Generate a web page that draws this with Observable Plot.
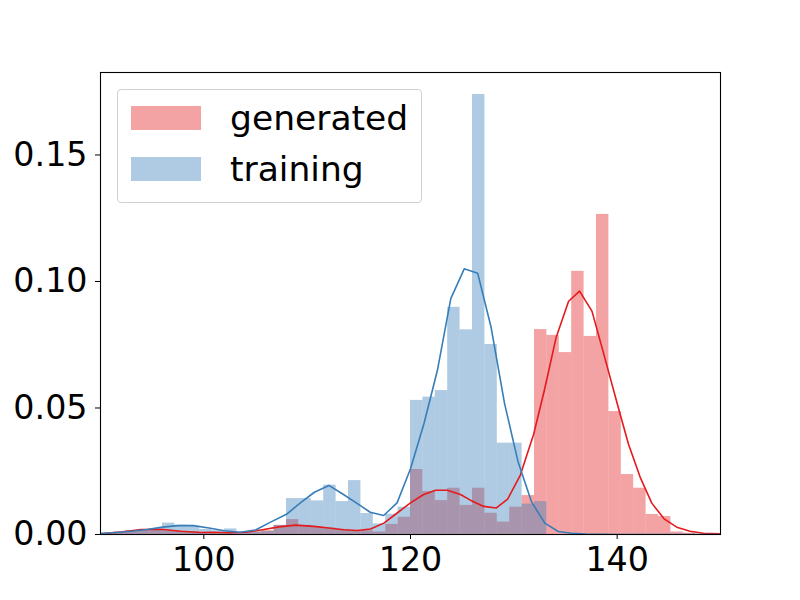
<!DOCTYPE html>
<html>
<head>
<meta charset="utf-8">
<script src="https://cdn.jsdelivr.net/npm/d3@7"></script>
<script src="https://cdn.jsdelivr.net/npm/@observablehq/plot@0.6"></script>
<style>
  body { margin: 0; background: #fff; }
  #wrap { position: relative; width: 800px; height: 600px; font-family: "DejaVu Sans", sans-serif; }
  #legend { position: absolute; left: 117px; top: 89px; width: 305px; height: 114px;
    border: 1px solid #d0d0d0; border-radius: 4px; background: rgba(255,255,255,0.8); box-sizing: border-box; }
  .sw { width: 70px; height: 24px; }
  .lab { position: absolute; left: 112px; font-size: 34.5px; line-height: 1; white-space: nowrap; color: #000; }
</style>
</head>
<body>
<div id="wrap"></div>
<script>
// Histogram bin edges (bin starts; width 1.2)
const binStarts = [90,91.2,92.4,93.6,94.8,96,97.2,98.4,99.6,100.8,102,103.2,104.4,105.6,106.8,108,109.2,110.4,111.6,112.8,114,115.2,116.4,117.6,118.8,120,121.2,122.4,123.6,124.8,126,127.2,128.4,129.6,130.8,132,133.2,134.4,135.6,136.8,138,139.2,140.4,141.6,142.8,144,145.2,146.4,147.6,148.8];
const binWidth = 1.2;

// Histogram densities
const generatedHist = [0.0005,0.001,0.0015,0.0018,0.0018,0.0015,0.0012,0.001,0.0008,0.0008,0.0008,0.0008,0.001,0.0015,0.0036,0.0059,0.0036,0.0028,0.0025,0.002,0.0015,0.0015,0.001,0.004,0.0068,0.0257,0.017,0.0134,0.0183,0.0115,0.0183,0.0084,0.0049,0.0108,0.0154,0.081,0.0787,0.0719,0.104,0.0783,0.1265,0.0486,0.0237,0.0183,0.0079,0.0071,0.001,0.0005,0,0];
const trainingHist = [0,0.0005,0.001,0.0015,0.0022,0.0045,0.0037,0.0032,0.002,0.0015,0.0022,0.0008,0.001,0.0012,0.0036,0.0142,0.0142,0.0133,0.0195,0.013,0.0213,0.0083,0.0042,0.008,0.0108,0.053,0.0543,0.0569,0.0898,0.0809,0.1739,0.0751,0.0361,0.0361,0.012,0.013,0,0,0,0,0,0,0,0,0,0,0,0,0,0];

// KDE curves
const generatedKdeX = [90.05,91.98,93.91,95.85,97.78,99.71,100.84,102.44,104.06,105.67,107.28,108.89,110.66,112.1,113.55,114.85,116.14,117.42,118.71,120.0,121.23,122.42,123.55,124.84,125.96,127.08,128.31,129.4,130.63,131.91,132.95,134.1,135.3,136.36,137.56,138.74,139.97,141.09,142.22,143.35,144.54,145.77,147.05,148.34,150];
const generatedKdeY = [0.0003,0.001,0.002,0.0021,0.0013,0.0008,0.0009,0.0007,0.0009,0.0019,0.003,0.0037,0.0032,0.0026,0.0019,0.0016,0.0022,0.0045,0.0085,0.0125,0.0157,0.0175,0.0175,0.0158,0.0132,0.0111,0.0105,0.014,0.0235,0.0395,0.0569,0.078,0.0922,0.0962,0.0883,0.0708,0.0523,0.0358,0.0227,0.0124,0.0062,0.0029,0.0013,0.0005,0.0003];
const trainingKdeX = [90,91.5,93,94.5,96,97.5,99,100.5,102,103.5,105,106.5,108,109.4,110.7,112.1,113.4,114.9,116.1,117.4,118.7,120.0,121.3,122.6,123.9,125.2,126.5,127.8,129.1,130.4,131.7,133.0,134.3,135.6,137,140,145,150];
const trainingKdeY = [0.0004,0.0008,0.0013,0.002,0.0029,0.0035,0.0035,0.0026,0.0015,0.0009,0.0018,0.005,0.008,0.0127,0.0167,0.0194,0.0161,0.0121,0.0088,0.0075,0.0125,0.026,0.0438,0.0648,0.0932,0.105,0.1033,0.0819,0.0518,0.0289,0.013,0.0045,0.0012,0.0005,0.0002,0,0,0];

const yTicks = [0, 0.05, 0.10, 0.15];
const xTicks = [100, 120, 140];
const seriesNames = ["generated", "training"];
const seriesColors = ["#e41a1c", "#377eb8"];

const genBars = binStarts.map((s, i) => ({x1: s, x2: s + binWidth, y: generatedHist[i]}));
const trBars = binStarts.map((s, i) => ({x1: s, x2: s + binWidth, y: trainingHist[i]}));
const genKde = generatedKdeX.map((x, i) => ({x, y: generatedKdeY[i]}));
const trKde = trainingKdeX.map((x, i) => ({x, y: trainingKdeY[i]}));

const chart = Plot.plot({
  width: 800,
  height: 600,
  marginLeft: 100,
  marginRight: 80,
  marginTop: 72,
  marginBottom: 66,
  style: {fontFamily: "DejaVu Sans, sans-serif", fontSize: "33.3px", color: "#000", background: "#fff"},
  x: {domain: [90, 150], ticks: xTicks, tickFormat: d3.format("d"), tickSize: 5, tickPadding: 8, label: null},
  y: {domain: [0, 0.1826], ticks: yTicks, tickFormat: d3.format(".2f"), tickSize: 5, tickPadding: 8, label: null},
  marks: [
    Plot.rect(genBars, {x1: "x1", x2: "x2", y1: 0, y2: "y", fill: seriesColors[0], fillOpacity: 0.4, inset: 0}),
    Plot.rect(trBars, {x1: "x1", x2: "x2", y1: 0, y2: "y", fill: seriesColors[1], fillOpacity: 0.4, inset: 0}),
    Plot.line(genKde, {x: "x", y: "y", stroke: seriesColors[0], strokeWidth: 1.6, clip: true}),
    Plot.line(trKde, {x: "x", y: "y", stroke: seriesColors[1], strokeWidth: 1.6, clip: true}),
    Plot.axisX({ticks: xTicks, tickFormat: d3.format("d"), tickSize: 5, tickPadding: 8, fontSize: 33.3}),
    Plot.axisY({ticks: yTicks, tickFormat: d3.format(".2f"), tickSize: 5, tickPadding: 8, fontSize: 33.3}),
    Plot.frame({stroke: "#000", strokeWidth: 1.1})
  ]
});

const wrap = document.getElementById("wrap");
wrap.appendChild(chart);

const legend = document.createElement("div");
legend.id = "legend";
const tops = [16, 67];
seriesNames.forEach((name, i) => {
  const sw = document.createElement("div");
  sw.className = "sw";
  sw.style.position = "absolute";
  sw.style.left = "13px";
  sw.style.top = tops[i] + "px";
  sw.style.background = seriesColors[i];
  sw.style.opacity = 0.4;
  legend.appendChild(sw);
  const lab = document.createElement("div");
  lab.className = "lab";
  lab.textContent = name;
  lab.style.top = (tops[i] - 5) + "px";
  legend.appendChild(lab);
});
wrap.appendChild(legend);
</script>
</body>
</html>
